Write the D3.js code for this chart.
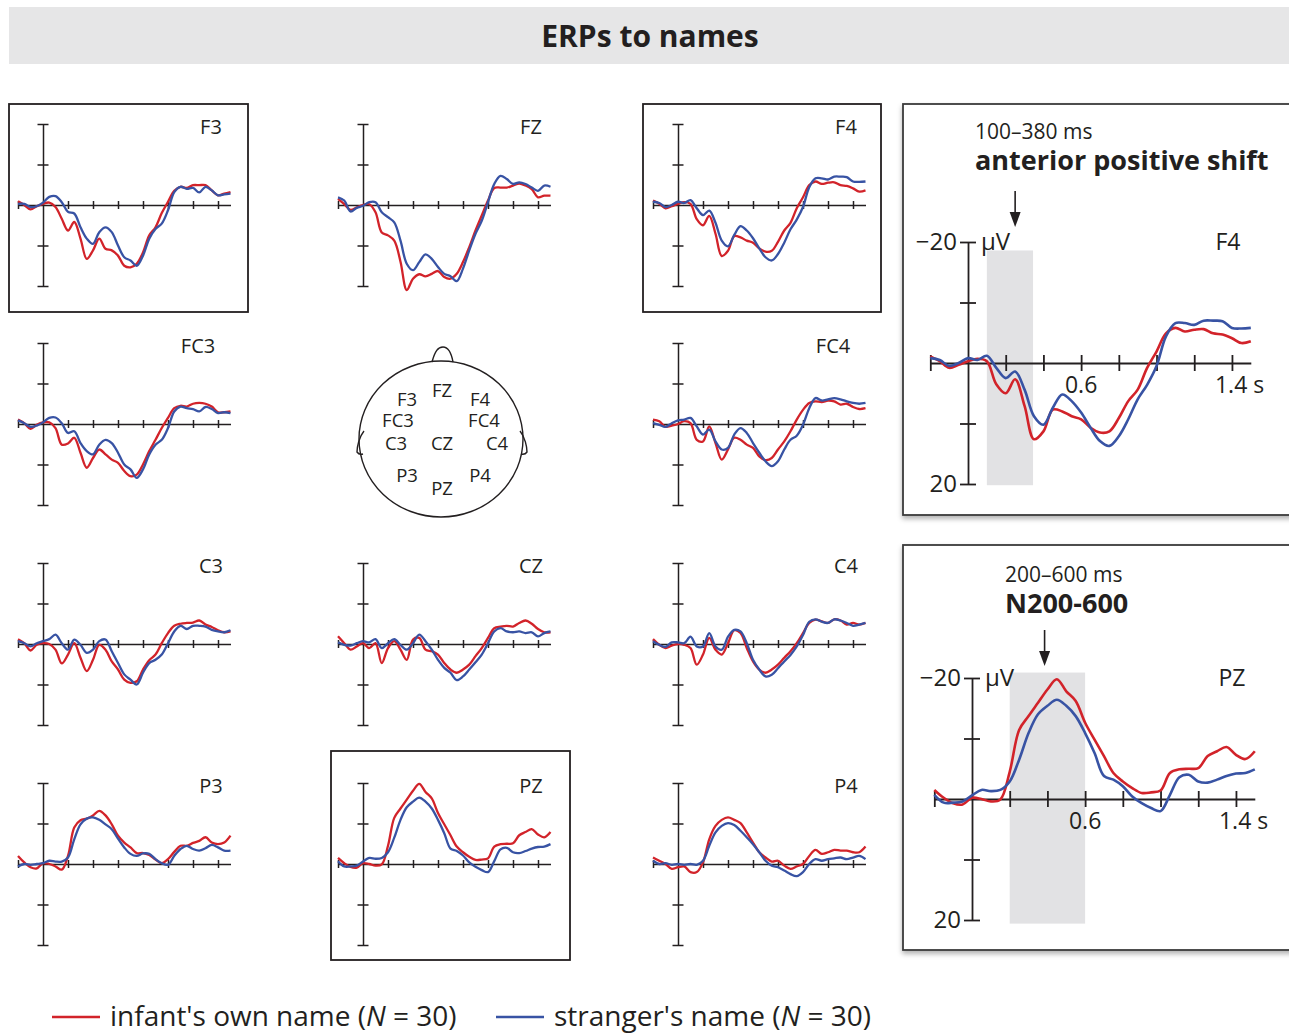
<!DOCTYPE html>
<html>
<head>
<meta charset="utf-8">
<script src="https://cdn.jsdelivr.net/npm/d3@7"></script>
<style>
    body { margin: 0; background: #fff; }
    text { font-family: "Open Sans", "Noto Sans", sans-serif; fill: #231f20; }
</style>
</head>
<body>
<svg id="chart"></svg>
<script>
// time base of every trace, seconds
const times = [-0.2, -0.15, -0.1, -0.05, 0, 0.05, 0.1, 0.15, 0.2, 0.25, 0.3, 0.35,
    0.4, 0.45, 0.5, 0.55, 0.6, 0.65, 0.7, 0.75, 0.8, 0.85, 0.9, 0.95, 1.0, 1.05,
    1.1, 1.15, 1.2, 1.25, 1.3, 1.35, 1.4, 1.45, 1.5];
const timeTicks = [-0.2, 0.2, 0.4, 0.6, 0.8, 1.0, 1.2, 1.4];
const voltTicks = [-20, -10, 10, 20];

// grand averages in microvolts (negative up)
const F3_own = [-0.9, 0, 1.1, 0.3, -0.3, -0.6, 0.5, 3.4, 6.3, 4.2, 8.3, 13.3, 11.2, 8.3, 10.8, 11.2, 12.5, 15.0, 15.4, 14.5, 11.7, 7.5, 5.5, 2.0, -0.8, -3.5, -4.5, -4.2, -4.9, -4.9, -4.9, -3.6, -2.4, -2.8, -3.2];
const F3_stranger = [-0.3, -0.3, 0.5, 0.3, -0.6, -2.0, -2.2, -0.7, 1.7, 2.1, 5.5, 8.3, 9.6, 6.7, 5.5, 6.7, 10.0, 12.9, 13.7, 15.0, 12.5, 8.3, 5.9, 4.6, 1.3, -3.2, -4.5, -4.0, -4.2, -3.1, -4.5, -3.6, -2.4, -2.6, -2.8];
const FZ_own = [-1.5, -0.2, 1.2, 0.6, 0, -0.2, 1.8, 6.8, 7.5, 8.8, 14.0, 21.0, 18.2, 17.1, 17.6, 17.0, 16.3, 17.8, 18.2, 17.0, 14.1, 10.4, 6.3, 2.6, -1.1, -4.2, -4.3, -4.3, -4.8, -5.3, -4.8, -3.9, -1.9, -2.3, -2.3];
const FZ_stranger = [-1.9, -1.1, 1.6, 0.7, 0.2, -0.7, -0.7, 1.8, 3.0, 4.3, 8.8, 14.5, 16.1, 14.1, 12.2, 13.3, 15.3, 17.0, 17.6, 18.8, 15.7, 11.2, 7.1, 3.9, -0.7, -5.2, -7.2, -6.4, -5.2, -5.6, -5.2, -4.3, -3.5, -4.8, -4.5];
const F4_own = [-1.1, -0.3, 0.8, 0.3, -0.3, -0.7, -0.3, 3.5, 5.0, 2.7, 7.1, 12.6, 11.3, 7.7, 8.0, 8.8, 9.3, 10.7, 11.5, 11.3, 9.1, 6.3, 4.4, 0.8, -1.9, -4.9, -5.8, -5.2, -5.5, -5.6, -4.9, -4.7, -4.1, -3.3, -3.6];
const F4_stranger = [-0.8, -0.5, 0.5, 0, -0.8, -0.5, -1.2, 0.8, 2.5, 1.4, 4.4, 8.8, 10.2, 7.4, 5.2, 6.3, 8.2, 10.7, 12.9, 13.7, 12.1, 9.3, 6.0, 3.6, 0.5, -4.4, -6.6, -6.6, -6.3, -7.0, -7.0, -6.9, -5.8, -5.7, -5.8];
const FC3_own = [-1.1, -0.2, 1.2, 0.2, -0.4, -0.4, 1.0, 5.1, 4.8, 3.4, 7.1, 10.8, 8.4, 6.3, 7.5, 8.8, 9.6, 11.6, 12.9, 12.5, 10.0, 6.7, 3.9, 1.0, -1.5, -3.9, -4.5, -4.3, -5.0, -5.2, -5.0, -4.3, -2.9, -2.9, -3.1];
const FC3_stranger = [-0.9, -0.2, 0.7, 0.4, -0.4, -1.5, -1.6, -0.2, 2.2, 1.8, 4.7, 6.7, 7.5, 5.1, 3.9, 4.7, 7.1, 10.0, 11.2, 13.3, 11.2, 7.5, 5.1, 3.9, 1.0, -3.1, -4.3, -3.9, -3.7, -3.1, -4.2, -3.7, -2.7, -2.9, -2.7];
const FC4_own = [-1.1, -0.7, 0.7, 0.4, 0, -0.7, -0.2, 3.9, 4.3, 0.6, 4.7, 8.8, 6.3, 3.4, 3.9, 5.1, 5.9, 8.0, 8.9, 8.4, 6.3, 4.3, 1.8, -1.1, -3.5, -5.2, -5.6, -5.4, -5.8, -5.6, -4.8, -5.0, -4.2, -3.7, -3.9];
const FC4_stranger = [-0.2, 0.2, 0.7, -0.2, -0.9, -1.1, -1.5, 0.6, 2.6, 1.4, 4.3, 6.3, 5.9, 2.6, 1.0, 2.2, 4.7, 7.1, 9.2, 10.4, 9.2, 6.3, 3.9, 2.9, 0.2, -3.9, -6.4, -5.8, -6.1, -6.4, -6.1, -5.6, -5.2, -5.0, -5.2];
const C3_own = [-1.2, -0.2, 1.6, 0.2, -0.2, 0, 1.4, 4.8, 2.6, -0.2, 3.4, 6.7, 3.9, 0.2, 1.4, 4.3, 6.3, 8.8, 9.6, 9.2, 6.3, 4.0, 2.6, -0.2, -2.7, -4.5, -5.0, -5.2, -5.3, -5.8, -4.8, -4.2, -3.4, -2.9, -3.1];
const C3_stranger = [-0.7, -0.2, 0.6, -0.2, -0.7, -1.2, -2.3, -0.2, 1.4, -1.1, 0.2, 2.2, 1.4, -0.7, -1.1, 1.8, 4.7, 7.5, 8.8, 10.0, 7.1, 4.7, 3.9, 2.6, -0.2, -3.1, -4.5, -3.7, -4.5, -4.5, -4.3, -3.5, -3.1, -2.9, -3.4];
const CZ_own = [-1.9, -0.2, 1.4, 0.6, -0.2, 1.0, -0.2, 4.7, 1.0, -0.7, 1.4, 3.9, -1.1, -1.5, 1.4, 1.8, 2.6, 4.7, 6.3, 7.1, 6.3, 5.1, 3.0, 1.0, -1.5, -3.9, -4.3, -4.5, -4.3, -5.2, -5.8, -5.0, -3.7, -2.9, -2.9];
const CZ_stranger = [-0.4, 0.2, 0.4, -0.2, -0.7, -0.4, -1.2, 1.0, -0.2, -1.2, 0.2, 1.4, -0.2, -2.3, -0.7, 1.4, 3.9, 5.9, 7.1, 8.9, 8.0, 6.3, 4.5, 2.6, -0.2, -3.1, -3.9, -3.1, -2.9, -3.1, -2.7, -2.9, -1.9, -2.7, -3.1];
const C4_own = [-1.2, 0.2, 1.0, 0.4, 0, 0.2, 1.0, 5.1, 2.6, -1.5, 1.4, 2.6, -0.2, -3.4, -2.7, 1.0, 4.3, 6.3, 7.1, 6.3, 5.1, 3.4, 1.8, -0.2, -2.7, -5.2, -6.0, -5.6, -5.2, -6.1, -5.8, -4.8, -5.2, -4.8, -5.2];
const C4_stranger = [-0.7, 0.2, 0.7, -0.4, -0.4, -0.2, -1.8, 0.6, 0.6, -2.7, 0.6, 1.4, -1.8, -3.5, -3.1, -0.2, 3.9, 6.3, 8.0, 7.6, 6.0, 4.3, 2.7, 0.6, -2.2, -5.5, -6.1, -5.5, -5.2, -6.1, -5.8, -5.2, -4.5, -4.8, -5.2];
const P3_own = [-2.0, -0.4, 0.8, 1.1, -0.2, 0, 0.6, 1.4, -2.0, -9.0, -10.8, -11.2, -12.0, -13.1, -12.0, -9.8, -7.0, -5.3, -4.1, -2.7, -2.7, -2.2, -1.1, -0.2, -1.2, -3.0, -4.5, -4.5, -5.2, -5.7, -6.6, -5.3, -4.9, -5.3, -7.0];
const P3_stranger = [0.6, 0, 0.2, 0, -0.2, -0.8, -0.6, -0.6, -1.6, -6.1, -9.8, -11.2, -11.5, -10.9, -9.8, -8.6, -6.3, -4.1, -2.5, -2.0, -2.6, -2.5, -1.2, -0.2, 0.2, -2.0, -3.7, -4.5, -3.7, -3.3, -3.9, -4.7, -4.1, -3.3, -3.3];
const PZ_own = [-1.5, -0.2, 0.7, 0.9, -0.2, 0, 0.4, 0.1, -4.5, -11.4, -13.7, -15.9, -18.1, -19.8, -17.8, -16.2, -12.6, -9.8, -7.1, -4.3, -2.9, -1.8, -1.0, -1.1, -1.4, -4.3, -4.9, -5.0, -5.1, -7.1, -7.9, -8.6, -7.3, -6.6, -7.9];
const PZ_stranger = [-0.7, 0.6, 0.6, 0.4, -0.6, -1.5, -1.3, -1.5, -2.9, -6.5, -10.9, -14.0, -15.4, -16.4, -15.4, -13.7, -10.9, -7.6, -3.8, -3.2, -2.1, -0.4, 0.7, 1.5, 2.0, -0.7, -3.6, -4.0, -2.9, -2.7, -3.2, -3.8, -4.2, -4.3, -4.9];
const P4_own = [-1.6, -0.8, 0, 1.2, 0.8, 0.6, 2.0, 2.0, -0.4, -6.1, -9.4, -10.9, -11.5, -10.9, -10.1, -7.8, -5.3, -2.9, -1.6, -0.6, -0.8, 0.4, 1.2, 0.6, 0, -2.0, -3.5, -2.5, -2.9, -3.5, -3.3, -3.3, -2.9, -2.9, -4.3];
const P4_stranger = [-0.8, 0, -0.2, 0.2, 0, 0.2, 0, 0.2, -0.8, -4.5, -7.8, -9.4, -10.1, -9.6, -8.2, -6.6, -4.9, -2.9, -0.8, 0.4, 0.8, 1.6, 2.5, 3.0, 2.0, 0, -1.2, -0.8, -1.2, -1.4, -1.6, -1.2, -1.6, -2.0, -1.2];

const gridNames = [
    ['F3', 'FZ', 'F4'],
    ['FC3', null, 'FC4'],
    ['C3', 'CZ', 'C4'],
    ['P3', 'PZ', 'P4'],
];
const headLabels = ['F3', 'FZ', 'F4', 'FC3', 'FC4', 'C3', 'CZ', 'C4', 'P3', 'PZ', 'P4'];
const legendLabels = ["infant's own name", "stranger's name"];
const legendN = [30, 30];

const traces = {
    F3: [F3_own, F3_stranger], FZ: [FZ_own, FZ_stranger], F4: [F4_own, F4_stranger],
    FC3: [FC3_own, FC3_stranger], FC4: [FC4_own, FC4_stranger],
    C3: [C3_own, C3_stranger], CZ: [CZ_own, CZ_stranger], C4: [C4_own, C4_stranger],
    P3: [P3_own, P3_stranger], PZ: [PZ_own, PZ_stranger], P4: [P4_own, P4_stranger],
};

const colors = ['#d2232a', '#3853a4'];
const ink = '#231f20';

const width = 1289;
const height = 1035;

const svg = d3.select('#chart')
    .attr('width', width)
    .attr('height', height);

const defs = svg.append('defs');
defs.append('filter')
    .attr('id', 'shadow')
    .attr('x', '-5%').attr('y', '-5%')
    .attr('width', '115%').attr('height', '115%')
    .append('feDropShadow')
    .attr('dx', 0).attr('dy', 3)
    .attr('stdDeviation', 2.5)
    .attr('flood-color', '#000')
    .attr('flood-opacity', 0.3);

// title band
svg.append('rect')
    .attr('x', 9).attr('y', 7)
    .attr('width', width).attr('height', 57)
    .attr('fill', '#e6e6e7');
svg.append('text')
    .attr('x', 650).attr('y', 47)
    .attr('text-anchor', 'middle')
    .attr('font-size', 30)
    .attr('font-weight', 700)
    .text('ERPs to names');

function centreTicks(g, half, horizontal) {
    g.selectAll('.tick line')
        .attr(horizontal ? 'y1' : 'x1', -half)
        .attr(horizontal ? 'y2' : 'x2', half);
}

function styleAxis(g, strokeWidth) {
    g.selectAll('path, line')
        .attr('stroke', ink)
        .attr('stroke-width', strokeWidth);
    g.selectAll('.tick text').remove();
}

function drawPanel(g, name, x, y, opts) {
    const xAxis = g.append('g')
        .call(d3.axisBottom(x).tickValues(timeTicks).tickSizeOuter(0).tickFormat(''));
    centreTicks(xAxis, opts.xTick, true);
    styleAxis(xAxis, opts.axisWidth);

    const yAxis = g.append('g')
        .attr('transform', `translate(${x(0)},0)`)
        .call(d3.axisLeft(y).tickValues(voltTicks).tickSizeOuter(0).tickFormat(''));
    centreTicks(yAxis, opts.yTick, false);
    styleAxis(yAxis, opts.axisWidth);

    const line = d3.line()
        .x((d, i) => x(times[i]))
        .y(d => y(d))
        .curve(d3.curveCatmullRom.alpha(0.5));

    g.selectAll('.trace')
        .data(traces[name])
        .join('path')
        .attr('class', 'trace')
        .attr('d', line)
        .attr('fill', 'none')
        .attr('stroke', (d, i) => colors[i])
        .attr('stroke-width', opts.lineWidth)
        .attr('stroke-linejoin', 'round');
}

// small panels
const colAxis = [43, 363, 678];
const rowZero = [205, 424, 644, 864];
const framed = {
    F3: [-34, -101, 239, 208],
    F4: [-35, -101, 238, 208],
    PZ: [-32, -113, 239, 209],
};

const xSmall = d3.scaleLinear().domain([-0.2, 1.5]).range([-25, 187.5]);
const ySmall = d3.scaleLinear().domain([-20, 20]).range([-81, 81]);

gridNames.forEach((row, r) => {
    row.forEach((name, c) => {
        if (!name) return;
        const g = svg.append('g')
            .attr('transform', `translate(${colAxis[c]},${rowZero[r]})`);
        if (framed[name]) {
            const f = framed[name];
            g.append('rect')
                .attr('x', f[0]).attr('y', f[1])
                .attr('width', f[2]).attr('height', f[3])
                .attr('fill', 'none')
                .attr('stroke', ink)
                .attr('stroke-width', 1.8);
        }
        drawPanel(g, name, xSmall, ySmall, { xTick: 4, yTick: 5.5, axisWidth: 1.5, lineWidth: 2.3 });
        g.append('text')
            .attr('x', name.length > 2 ? 155 : 168)
            .attr('y', -71)
            .attr('text-anchor', 'middle')
            .attr('font-size', 20)
            .text(name);
    });
});

// head map
const head = svg.append('g').attr('transform', 'translate(441,439)');
head.append('path')
    .attr('d', 'M-9,-77 C-6,-88 -3,-92 2,-92 C7,-92 10,-88 12,-77')
    .attr('fill', '#fff').attr('stroke', ink).attr('stroke-width', 1.4);
head.append('path')
    .attr('d', 'M-77,-8 C-82,-2 -84,8 -84,13 C-82,16 -78,15 -78,15')
    .attr('fill', 'none').attr('stroke', ink).attr('stroke-width', 1.4);
head.append('path')
    .attr('d', 'M79,-8 C84,-2 86,8 86,13 C84,16 80,15 80,15')
    .attr('fill', 'none').attr('stroke', ink).attr('stroke-width', 1.4);
head.append('ellipse')
    .attr('rx', 82).attr('ry', 78)
    .attr('fill', 'none').attr('stroke', ink).attr('stroke-width', 1.4);

const headPos = {
    F3: [-34, -33], FZ: [1, -42], F4: [39, -33],
    FC3: [-43, -12], FC4: [43, -12],
    C3: [-45, 11], CZ: [1, 11], C4: [56, 11],
    P3: [-34, 43], PZ: [1, 56], P4: [39, 43],
};
head.selectAll('.elec')
    .data(headLabels)
    .join('text')
    .attr('class', 'elec')
    .attr('x', d => headPos[d][0])
    .attr('y', d => headPos[d][1])
    .attr('text-anchor', 'middle')
    .attr('font-size', 18.5)
    .text(d => d);

// enlarged panels
const bigPanels = [
    {
        name: 'F4', ax: 968, zero: 363, box: [-65, -259, 420, 411],
        band: [0.1, 0.345, -18.6, 20.2], arrowT: 0.25, arrowTip: -136,
        textX: 7, lines: ['100–380 ms', 'anterior positive shift'], lineY: [-224, -193],
        boldSize: 27,
    },
    {
        name: 'PZ', ax: 972, zero: 799, box: [-69, -254, 420, 405],
        band: [0.2, 0.6, -20.9, 20.6], arrowT: 0.385, arrowTip: -133,
        textX: 33, lines: ['200–600 ms', 'N200-600'], lineY: [-217, -186],
        boldSize: 27,
    },
];

const xBig = d3.scaleLinear().domain([-0.2, 1.5]).range([-37.7, 282.8]);
const yBig = d3.scaleLinear().domain([-20, 20]).range([-121, 121]);

bigPanels.forEach(p => {
    const g = svg.append('g')
        .attr('transform', `translate(${p.ax},${p.zero})`);

    g.append('rect')
        .attr('x', p.box[0]).attr('y', p.box[1])
        .attr('width', p.box[2]).attr('height', p.box[3])
        .attr('fill', '#fff')
        .attr('stroke', '#3a3a3a')
        .attr('stroke-width', 1.8)
        .attr('filter', 'url(#shadow)');

    g.append('rect')
        .attr('x', xBig(p.band[0]))
        .attr('y', yBig(p.band[2]))
        .attr('width', xBig(p.band[1]) - xBig(p.band[0]))
        .attr('height', yBig(p.band[3]) - yBig(p.band[2]))
        .attr('fill', '#e2e2e4');

    drawPanel(g, p.name, xBig, yBig, { xTick: 8, yTick: 8, axisWidth: 1.8, lineWidth: 2.6 });

    g.append('text')
        .attr('x', xBig(0.6)).attr('y', 30)
        .attr('text-anchor', 'middle')
        .attr('font-size', 23)
        .text('0.6');
    g.append('text')
        .attr('x', xBig(1.4) - 17).attr('y', 30)
        .attr('font-size', 23)
        .text('1.4 s');
    g.append('text')
        .attr('x', -11).attr('y', yBig(-20) + 8)
        .attr('text-anchor', 'end')
        .attr('font-size', 24)
        .text('−20');
    g.append('text')
        .attr('x', -11).attr('y', yBig(20) + 8)
        .attr('text-anchor', 'end')
        .attr('font-size', 24)
        .text('20');
    g.append('text')
        .attr('x', 13).attr('y', yBig(-20) + 8)
        .attr('font-size', 24)
        .text('μV');
    g.append('text')
        .attr('x', 260).attr('y', -113)
        .attr('text-anchor', 'middle')
        .attr('font-size', 23)
        .text(p.name);

    // annotation
    g.append('text')
        .attr('x', p.textX).attr('y', p.lineY[0])
        .attr('font-size', 21)
        .text(p.lines[0]);
    g.append('text')
        .attr('x', p.textX).attr('y', p.lineY[1])
        .attr('font-size', p.boldSize)
        .attr('font-weight', 700)
        .text(p.lines[1]);

    const ax = xBig(p.arrowT);
    g.append('line')
        .attr('x1', ax).attr('x2', ax)
        .attr('y1', p.arrowTip - 36).attr('y2', p.arrowTip - 12)
        .attr('stroke', ink).attr('stroke-width', 1.6);
    g.append('path')
        .attr('d', `M${ax - 5.5},${p.arrowTip - 15}L${ax + 5.5},${p.arrowTip - 15}L${ax},${p.arrowTip}Z`)
        .attr('fill', ink);
});

// legend
const legendX = [52, 496];
legendLabels.forEach((label, i) => {
    const g = svg.append('g').attr('transform', `translate(${legendX[i]},1017)`);
    g.append('line')
        .attr('x1', 0).attr('x2', 48)
        .attr('stroke', colors[i]).attr('stroke-width', 2.6);
    const t = g.append('text')
        .attr('x', 58).attr('y', 9)
        .attr('font-size', 28);
    t.append('tspan').text(`${label} (`);
    t.append('tspan').attr('font-style', 'italic').text('N');
    t.append('tspan').text(` = ${legendN[i]})`);
});
</script>
</body>
</html>
